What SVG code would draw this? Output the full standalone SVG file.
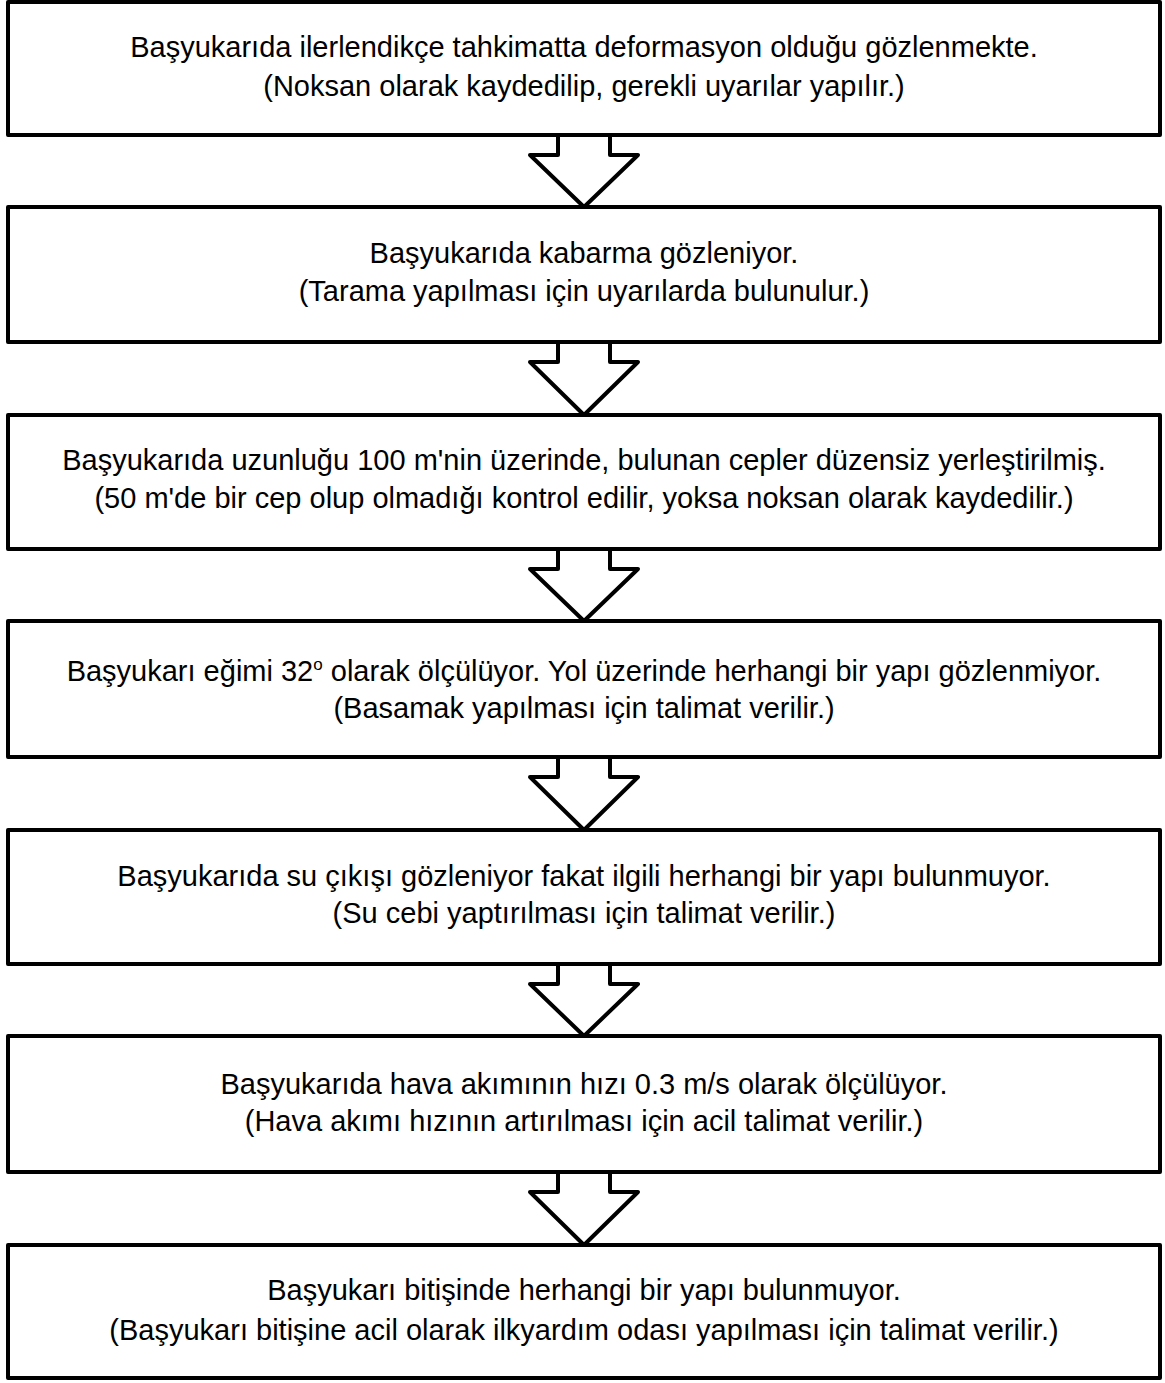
<svg xmlns="http://www.w3.org/2000/svg" width="1165" height="1383" viewBox="0 0 1165 1383">
<style>
.box{fill:#fff;stroke:#000;stroke-width:4;stroke-linejoin:round}
.arr{fill:none;stroke:#000;stroke-width:4;stroke-linejoin:round}
text{font-family:"Liberation Sans",Arial,sans-serif;font-size:29px;fill:#000;text-anchor:middle}
</style>
<rect width="1165" height="1383" fill="#fff"/>
<g id="connectors">
<polyline class="arr" points="558,135 558,155 530,155 584,207 638,155 610,155 610,135"/>
<polyline class="arr" points="558,342 558,362 530,362 584,415 638,362 610,362 610,342"/>
<polyline class="arr" points="558,549 558,569 530,569 584,621 638,569 610,569 610,549"/>
<polyline class="arr" points="558,757 558,777 530,777 584,830 638,777 610,777 610,757"/>
<polyline class="arr" points="558,964 558,984 530,984 584,1036 638,984 610,984 610,964"/>
<polyline class="arr" points="558,1172 558,1192 530,1192 584,1245 638,1192 610,1192 610,1172"/>
</g>
<g id="n1"><rect class="box" x="8" y="2" width="1152" height="133"/>
<text x="584" y="57">Başyukarıda ilerlendikçe tahkimatta deformasyon olduğu gözlenmekte.</text>
<text x="584" y="96">(Noksan olarak kaydedilip, gerekli uyarılar yapılır.)</text></g>
<g id="n2"><rect class="box" x="8" y="207" width="1152" height="135"/>
<text x="584" y="263">Başyukarıda kabarma gözleniyor.</text>
<text x="584" y="301">(Tarama yapılması için uyarılarda bulunulur.)</text></g>
<g id="n3"><rect class="box" x="8" y="415" width="1152" height="134"/>
<text x="584" y="470">Başyukarıda uzunluğu 100 m'nin üzerinde, bulunan cepler düzensiz yerleştirilmiş.</text>
<text x="584" y="508">(50 m'de bir cep olup olmadığı kontrol edilir, yoksa noksan olarak kaydedilir.)</text></g>
<g id="n4"><rect class="box" x="8" y="621" width="1152" height="136"/>
<text x="584" y="681">Başyukarı eğimi 32<tspan font-size="17" dy="-11">o</tspan><tspan dy="11"> olarak ölçülüyor. Yol üzerinde herhangi bir yapı gözlenmiyor.</tspan></text>
<text x="584" y="718">(Basamak yapılması için talimat verilir.)</text></g>
<g id="n5"><rect class="box" x="8" y="830" width="1152" height="134"/>
<text x="584" y="886">Başyukarıda su çıkışı gözleniyor fakat ilgili herhangi bir yapı bulunmuyor.</text>
<text x="584" y="923">(Su cebi yaptırılması için talimat verilir.)</text></g>
<g id="n6"><rect class="box" x="8" y="1036" width="1152" height="136"/>
<text x="584" y="1094">Başyukarıda hava akımının hızı 0.3 m/s olarak ölçülüyor.</text>
<text x="584" y="1131">(Hava akımı hızının artırılması için acil talimat verilir.)</text></g>
<g id="n7"><rect class="box" x="8" y="1245" width="1152" height="133"/>
<text x="584" y="1300">Başyukarı bitişinde herhangi bir yapı bulunmuyor.</text>
<text x="584" y="1340">(Başyukarı bitişine acil olarak ilkyardım odası yapılması için talimat verilir.)</text></g>
</svg>
